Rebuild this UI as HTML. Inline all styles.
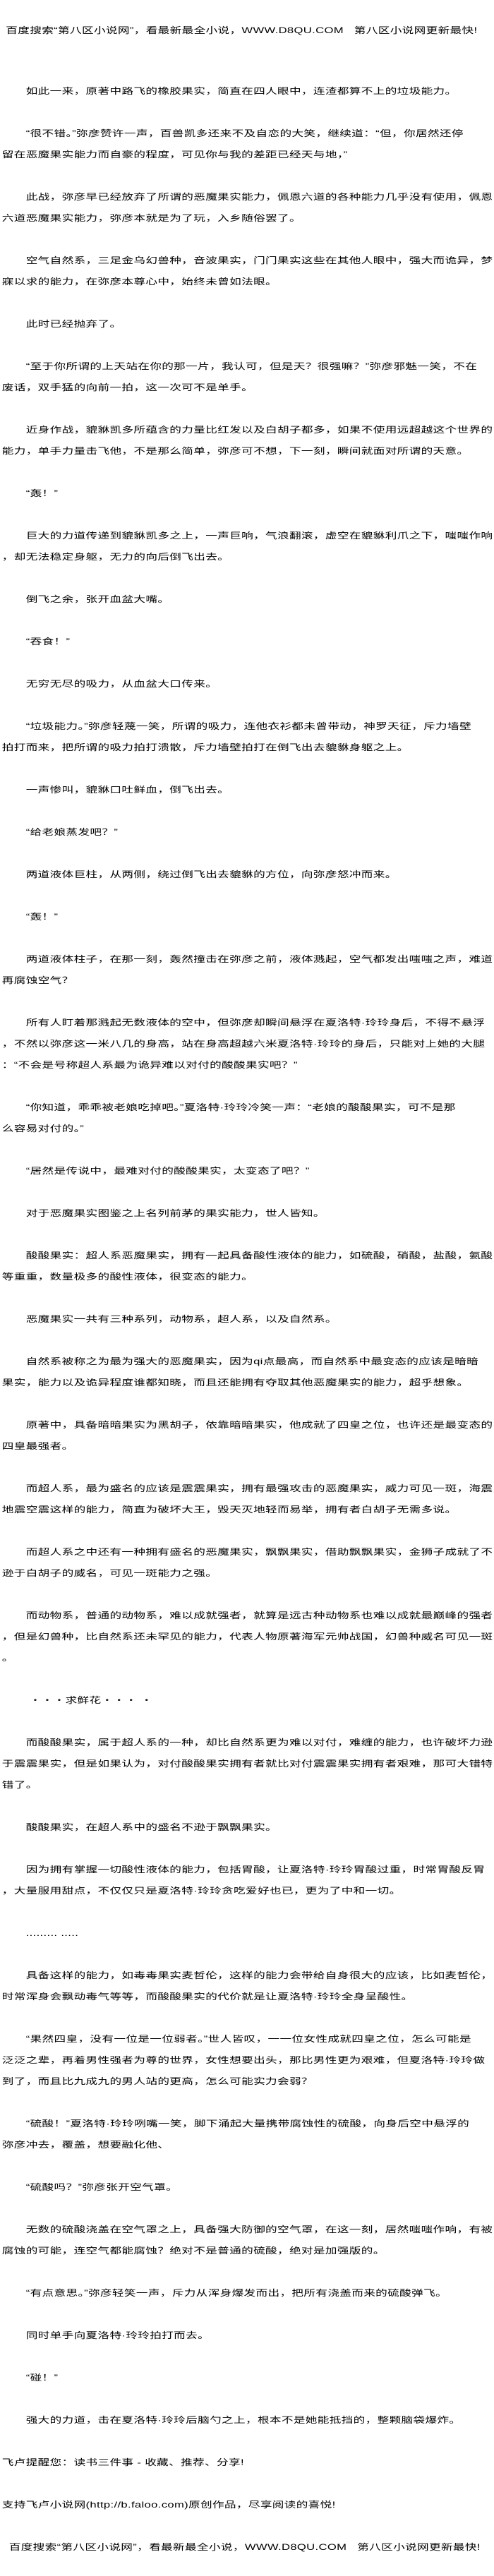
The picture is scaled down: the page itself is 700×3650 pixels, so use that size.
<!DOCTYPE html>
<html><head><meta charset="utf-8">
<style>
html,body{margin:0;padding:0;background:#fff;}
body{width:700px;height:3650px;position:relative;overflow:hidden;
font-family:"Liberation Sans","WenQuanYi Zen Hei","Noto Sans CJK SC",sans-serif;font-size:12px;color:#000;}
#w{position:absolute;left:0;top:0;width:506px;height:3650px;transform:scaleX(1.385);transform-origin:0 0;}
#hd{position:absolute;left:6px;top:35px;line-height:16px;white-space:nowrap;letter-spacing:0.25px;}
#c{position:absolute;left:2px;top:114px;width:505px;}
#c div{height:30px;line-height:30px;white-space:nowrap;letter-spacing:0.25px;}
</style></head><body>
<div id="w">
<div id="hd">百度搜索“第八区小说网”，看最新最全小说，WWW.D8QU.COM&nbsp;&nbsp;&nbsp;第八区小说网更新最快!</div>
<div id="c">
<div>　　如此一来，原著中路飞的橡胶果实，简直在四人眼中，连渣都算不上的垃圾能力。</div>
<div></div>
<div>　　“很不错。”弥彦赞许一声，百兽凯多还来不及自恋的大笑，继续道：“但，你居然还停</div>
<div>留在恶魔果实能力而自豪的程度，可见你与我的差距已经天与地，”</div>
<div></div>
<div>　　此战，弥彦早已经放弃了所谓的恶魔果实能力，佩恩六道的各种能力几乎没有使用，佩恩</div>
<div>六道恶魔果实能力，弥彦本就是为了玩，入乡随俗罢了。</div>
<div></div>
<div>　　空气自然系，三足金乌幻兽种，音波果实，门门果实这些在其他人眼中，强大而诡异，梦</div>
<div>寐以求的能力，在弥彦本尊心中，始终未曾如法眼。</div>
<div></div>
<div>　　此时已经抛弃了。</div>
<div></div>
<div>　　“至于你所谓的上天站在你的那一片，我认可，但是天？很强嘛？”弥彦邪魅一笑，不在</div>
<div>废话，双手猛的向前一拍，这一次可不是单手。</div>
<div></div>
<div>　　近身作战，貔貅凯多所蕴含的力量比红发以及白胡子都多，如果不使用远超越这个世界的</div>
<div>能力，单手力量击飞他，不是那么简单，弥彦可不想，下一刻，瞬间就面对所谓的天意。</div>
<div></div>
<div>　　“轰！”</div>
<div></div>
<div>　　巨大的力道传递到貔貅凯多之上，一声巨响，气浪翻滚，虚空在貔貅利爪之下，嗤嗤作响</div>
<div>，却无法稳定身躯，无力的向后倒飞出去。</div>
<div></div>
<div>　　倒飞之余，张开血盆大嘴。</div>
<div></div>
<div>　　“吞食！”</div>
<div></div>
<div>　　无穷无尽的吸力，从血盆大口传来。</div>
<div></div>
<div>　　“垃圾能力。”弥彦轻蔑一笑，所谓的吸力，连他衣衫都未曾带动，神罗天征，斥力墙壁</div>
<div>拍打而来，把所谓的吸力拍打溃散，斥力墙壁拍打在倒飞出去貔貅身躯之上。</div>
<div></div>
<div>　　一声惨叫，貔貅口吐鲜血，倒飞出去。</div>
<div></div>
<div>　　“给老娘蒸发吧？”</div>
<div></div>
<div>　　两道液体巨柱，从两侧，绕过倒飞出去貔貅的方位，向弥彦怒冲而来。</div>
<div></div>
<div>　　“轰！”</div>
<div></div>
<div>　　两道液体柱子，在那一刻，轰然撞击在弥彦之前，液体溅起，空气都发出嗤嗤之声，难道</div>
<div>再腐蚀空气？</div>
<div></div>
<div>　　所有人盯着那溅起无数液体的空中，但弥彦却瞬间悬浮在夏洛特·玲玲身后，不得不悬浮</div>
<div>，不然以弥彦这一米八几的身高，站在身高超越六米夏洛特·玲玲的身后，只能对上她的大腿</div>
<div>：“不会是号称超人系最为诡异难以对付的酸酸果实吧？”</div>
<div></div>
<div>　　“你知道，乖乖被老娘吃掉吧。”夏洛特·玲玲冷笑一声：“老娘的酸酸果实，可不是那</div>
<div>么容易对付的。”</div>
<div></div>
<div>　　“居然是传说中，最难对付的酸酸果实，太变态了吧？”</div>
<div></div>
<div>　　对于恶魔果实图鉴之上名列前茅的果实能力，世人皆知。</div>
<div></div>
<div>　　酸酸果实：超人系恶魔果实，拥有一起具备酸性液体的能力，如硫酸，硝酸，盐酸，氨酸</div>
<div>等重重，数量极多的酸性液体，很变态的能力。</div>
<div></div>
<div>　　恶魔果实一共有三种系列，动物系，超人系，以及自然系。</div>
<div></div>
<div>　　自然系被称之为最为强大的恶魔果实，因为qi点最高，而自然系中最变态的应该是暗暗</div>
<div>果实，能力以及诡异程度谁都知晓，而且还能拥有夺取其他恶魔果实的能力，超乎想象。</div>
<div></div>
<div>　　原著中，具备暗暗果实为黑胡子，依靠暗暗果实，他成就了四皇之位，也许还是最变态的</div>
<div>四皇最强者。</div>
<div></div>
<div>　　而超人系，最为盛名的应该是震震果实，拥有最强攻击的恶魔果实，威力可见一斑，海震</div>
<div>地震空震这样的能力，简直为破坏大王，毁天灭地轻而易举，拥有者白胡子无需多说。</div>
<div></div>
<div>　　而超人系之中还有一种拥有盛名的恶魔果实，飘飘果实，借助飘飘果实，金狮子成就了不</div>
<div>逊于白胡子的威名，可见一斑能力之强。</div>
<div></div>
<div>　　而动物系，普通的动物系，难以成就强者，就算是远古种动物系也难以成就最巅峰的强者</div>
<div>，但是幻兽种，比自然系还未罕见的能力，代表人物原著海军元帅战国，幻兽种威名可见一斑</div>
<div>。</div>
<div></div>
<div>　　 ・・・求鲜花・・・ ・</div>
<div></div>
<div>　　而酸酸果实，属于超人系的一种，却比自然系更为难以对付，难缠的能力，也许破坏力逊</div>
<div>于震震果实，但是如果认为，对付酸酸果实拥有者就比对付震震果实拥有者艰难，那可大错特</div>
<div>错了。</div>
<div></div>
<div>　　酸酸果实，在超人系中的盛名不逊于飘飘果实。</div>
<div></div>
<div>　　因为拥有掌握一切酸性液体的能力，包括胃酸，让夏洛特·玲玲胃酸过重，时常胃酸反胃</div>
<div>，大量服用甜点，不仅仅只是夏洛特·玲玲贪吃爱好也已，更为了中和一切。</div>
<div></div>
<div>　　.........&nbsp;.....</div>
<div></div>
<div>　　具备这样的能力，如毒毒果实麦哲伦，这样的能力会带给自身很大的应该，比如麦哲伦，</div>
<div>时常浑身会飘动毒气等等，而酸酸果实的代价就是让夏洛特·玲玲全身呈酸性。</div>
<div></div>
<div>　　“果然四皇，没有一位是一位弱者。”世人皆叹，一一位女性成就四皇之位，怎么可能是</div>
<div>泛泛之辈，再着男性强者为尊的世界，女性想要出头，那比男性更为艰难，但夏洛特·玲玲做</div>
<div>到了，而且比九成九的男人站的更高，怎么可能实力会弱？</div>
<div></div>
<div>　　“硫酸！”夏洛特·玲玲咧嘴一笑，脚下涌起大量携带腐蚀性的硫酸，向身后空中悬浮的</div>
<div>弥彦冲去，覆盖，想要融化他、</div>
<div></div>
<div>　　“硫酸吗？”弥彦张开空气罩。</div>
<div></div>
<div>　　无数的硫酸浇盖在空气罩之上，具备强大防御的空气罩，在这一刻，居然嗤嗤作响，有被</div>
<div>腐蚀的可能，连空气都能腐蚀？绝对不是普通的硫酸，绝对是加强版的。</div>
<div></div>
<div>　　“有点意思。”弥彦轻笑一声，斥力从浑身爆发而出，把所有浇盖而来的硫酸弹飞。</div>
<div></div>
<div>　　同时单手向夏洛特·玲玲拍打而去。</div>
<div></div>
<div>　　“碰！”</div>
<div></div>
<div>　　强大的力道，击在夏洛特·玲玲后脑勺之上，根本不是她能抵挡的，整颗脑袋爆炸。</div>
<div></div>
<div>飞卢提醒您：读书三件事 - 收藏、推荐、分享!</div>
<div></div>
<div>支持飞卢小说网(http://b.faloo.com)原创作品，尽享阅读的喜悦!</div>
<div></div>
<div>&nbsp;&nbsp;百度搜索“第八区小说网”，看最新最全小说，WWW.D8QU.COM&nbsp;&nbsp;&nbsp;第八区小说网更新最快!</div>
</div>
</div>
</body></html>
